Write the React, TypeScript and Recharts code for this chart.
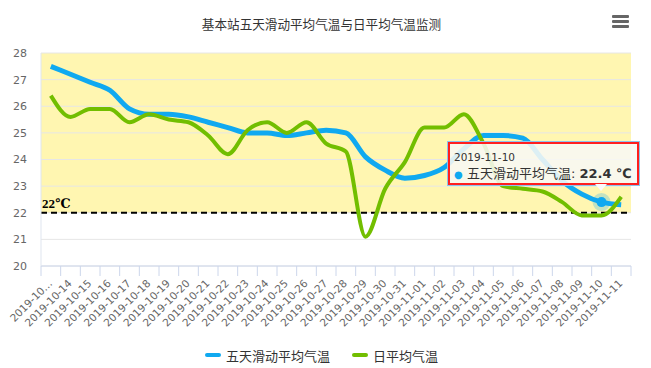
import React from 'react'
import {
  LineChart, Line, XAxis, YAxis, CartesianGrid, Tooltip, Legend, ReferenceLine,
} from 'recharts'

const DATES = [
  '2019-10-13', '2019-10-14', '2019-10-15', '2019-10-16', '2019-10-17',
  '2019-10-18', '2019-10-19', '2019-10-20', '2019-10-21', '2019-10-22',
  '2019-10-23', '2019-10-24', '2019-10-25', '2019-10-26', '2019-10-27',
  '2019-10-28', '2019-10-29', '2019-10-30', '2019-10-31', '2019-11-01',
  '2019-11-02', '2019-11-03', '2019-11-04', '2019-11-05', '2019-11-06',
  '2019-11-07', '2019-11-08', '2019-11-09', '2019-11-10', '2019-11-11',
]

// 五天滑动平均气温
const MOVING_AVG = [
  27.5, 27.2, 26.9, 26.6, 25.9, 25.7, 25.7, 25.6, 25.4, 25.2,
  25.0, 25.0, 24.9, 25.0, 25.1, 25.0, 24.1, 23.6, 23.3, 23.4,
  23.7, 24.4, 24.9, 24.9, 24.8, 24.0, 23.2, 22.7, 22.4, 22.3,
]

// 日平均气温
const DAILY_AVG = [
  26.4, 25.6, 25.9, 25.9, 25.4, 25.7, 25.5, 25.4, 24.9, 24.2,
  25.1, 25.4, 25.0, 25.4, 24.6, 24.3, 21.1, 22.9, 23.9, 25.2,
  25.2, 25.7, 24.6, 23.0, 22.9, 22.8, 22.4, 21.9, 21.9, 22.6,
]

const Y_TICKS = [20, 21, 22, 23, 24, 25, 26, 27, 28]
const THRESHOLD = 22
const TOOLTIP_INDEX = 28

const SERIES = [
  { key: 'moving', label: '五天滑动平均气温', color: '#10a9f0', width: 5 },
  { key: 'daily', label: '日平均气温', color: '#72be00', width: 4 },
]

const LATIN = '"DejaVu Sans", "Noto Sans CJK SC", sans-serif'
const AXIS_COLOR = '#ccd6eb'
const BAND_COLOR = '#fff6b1'
const HALF_BAND = 590 / DATES.length / 2

const data = DATES.map((date, i) => ({
  date,
  moving: MOVING_AVG[i],
  daily: DAILY_AVG[i],
}))

// one fill per grid row, top row first: yellow above the 22℃ line, white below
const rowFills = Y_TICKS.slice(1).reverse().map(v => (v > THRESHOLD ? BAND_COLOR : '#ffffff'))

function DateTick(props: any) {
  const { x, y, payload, index } = props
  const text = index === 0 ? '2019-10…' : payload.value
  return (
    <g>
      <line x1={x - HALF_BAND} y1={y - 8} x2={x - HALF_BAND} y2={y + 2} stroke={AXIS_COLOR} />
      {index === DATES.length - 1 && (
        <line x1={x + HALF_BAND} y1={y - 8} x2={x + HALF_BAND} y2={y + 2} stroke={AXIS_COLOR} />
      )}
      <text
        x={x + 2}
        y={y + 10}
        transform={`rotate(-45 ${x + 2} ${y + 10})`}
        textAnchor="end"
        fontSize={10.5}
        fill="#666"
        fontFamily={LATIN}
      >
        {text}
      </text>
    </g>
  )
}

function TipBox({ active, payload, label }: any) {
  if (!active || !payload || !payload.length) return null
  const item = payload.find((p: any) => p.dataKey === 'moving') || payload[0]
  return (
    <div style={{ position: 'relative' }}>
      <div
        style={{
          background: 'rgba(248,248,244,0.88)',
          border: '2px solid #ff1f1f',
          boxShadow: '0 0 0 1px #8cc4ec',
          width: 187,
          height: 39,
          boxSizing: 'content-box',
          fontFamily: LATIN,
          color: '#333',
          padding: 0,
        }}
      >
        <div style={{ fontSize: 10.5, position: 'absolute', left: 6, top: 9 }}>{label}</div>
        <div style={{ fontSize: 13, position: 'absolute', left: 6, top: 21, whiteSpace: 'nowrap' }}>
          <span style={{ color: item.color, fontSize: 10 }}>●</span>{' '}
          {SERIES[0].label}: <b>{item.value} ℃</b>
        </div>
      </div>
      <div
        style={{
          position: 'absolute', left: 147, top: 42, width: 0, height: 0,
          borderLeft: '6px solid transparent', borderRight: '6px solid transparent',
          borderTop: '7px solid #fafafa',
        }}
      />
    </div>
  )
}

function LegendBox({ payload }: any) {
  return (
    <div style={{ display: 'flex', justifyContent: 'center', height: 20, alignItems: 'center' }}>
      {(payload || []).map((p: any, i: number) => (
        <div key={i} style={{ display: 'flex', alignItems: 'center', marginLeft: i ? 22 : 0 }}>
          <span style={{ width: 16, height: 4, background: p.color, borderRadius: 2, marginRight: 5 }} />
          <span style={{ fontSize: 13, color: '#333', fontFamily: LATIN }}>{p.value}</span>
        </div>
      ))}
    </div>
  )
}

export default function App() {
  return (
    <div style={{ position: 'absolute', left: 0, top: 0, width: 651, height: 368, background: '#fff' }}>
      <div
        style={{
          position: 'absolute', left: 0, top: 14, width: 643, textAlign: 'center',
          fontSize: 12.6, color: '#333', fontFamily: LATIN,
        }}
      >
        基本站五天滑动平均气温与日平均气温监测
      </div>
      <div style={{ position: 'absolute', left: 612, top: 15 }}>
        {[0, 1, 2].map(i => (
          <div key={i} style={{ width: 17, height: 3, background: '#666', marginBottom: 2, borderRadius: 1 }} />
        ))}
      </div>
      <LineChart
        width={651}
        height={368}
        data={data}
        margin={{ top: 53, right: 20, left: 0, bottom: 3 }}
      >
        <CartesianGrid
          vertical={false}
          stroke="#e6e6e6"
          horizontalFill={rowFills}
          fillOpacity={1}
        />
        <XAxis
          dataKey="date"
          interval={0}
          height={79}
          padding={{ left: HALF_BAND, right: HALF_BAND }}
          tickLine={false}
          axisLine={{ stroke: AXIS_COLOR }}
          tick={<DateTick />}
        />
        <YAxis
          width={41}
          domain={[20, 28]}
          ticks={Y_TICKS}
          interval={0}
          tickLine={false}
          tickSize={0}
          tickMargin={14}
          axisLine={{ stroke: '#dfe5ef' }}
          tick={{ fill: '#666', fontSize: 11, fontFamily: LATIN }}
        />
        <ReferenceLine
          y={THRESHOLD}
          stroke="#000"
          strokeWidth={2}
          strokeDasharray="6 4"
          label={(props: any) => (
            <text
              x={props.viewBox.x + 1}
              y={props.viewBox.y - 5}
              fontSize={13}
              fontWeight="bold"
              fill="#000"
              fontFamily='"Liberation Serif", "DejaVu Serif", serif'
            >
              22℃
            </text>
          )}
        />
        <Line
          type="monotone"
          dataKey="moving"
          name={SERIES[0].label}
          stroke={SERIES[0].color}
          strokeWidth={SERIES[0].width}
          dot={false}
          activeDot={{ r: 5, fill: SERIES[0].color, stroke: 'rgba(16,169,240,0.25)', strokeWidth: 8 }}
          isAnimationActive={false}
        />
        <Line
          type="monotone"
          dataKey="daily"
          name={SERIES[1].label}
          stroke={SERIES[1].color}
          strokeWidth={SERIES[1].width}
          dot={false}
          activeDot={false}
          isAnimationActive={false}
        />
        <Legend
          verticalAlign="bottom"
          content={<LegendBox />}
          wrapperStyle={{ left: 0, width: 643 }}
        />
        <Tooltip
          active
          defaultIndex={TOOLTIP_INDEX}
          position={{ x: 448, y: 142 }}
          cursor={false}
          isAnimationActive={false}
          content={<TipBox />}
        />
      </LineChart>
    </div>
  )
}
